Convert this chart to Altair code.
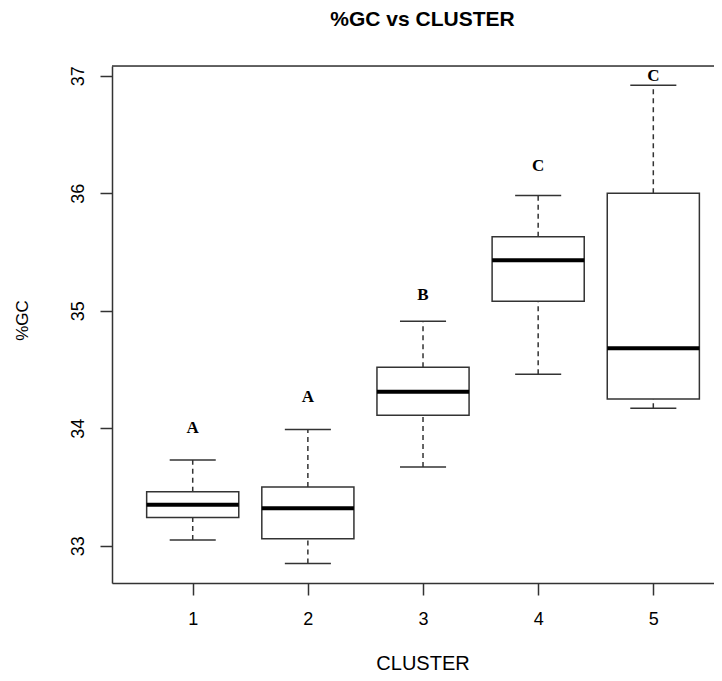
import altair as alt
import pandas as pd

# ---- data ----
clusters = [1, 2, 3, 4, 5]
whisker_low = [33.05, 32.85, 33.67, 34.46, 34.17]
q1 = [33.24, 33.06, 34.11, 35.08, 34.25]
median = [33.35, 33.32, 34.31, 35.43, 34.68]
q3 = [33.46, 33.50, 34.52, 35.63, 36.00]
whisker_high = [33.73, 33.99, 34.91, 35.98, 36.92]
letters = ["A", "A", "B", "C", "C"]
letter_y = [34.00, 34.27, 35.13, 36.23, 37.00]
x_ticks = [1, 2, 3, 4, 5]
y_ticks = [33, 34, 35, 36, 37]

df = pd.DataFrame({
    "cluster": clusters, "wlow": whisker_low, "q1": q1, "med": median,
    "q3": q3, "whigh": whisker_high, "letter": letters, "ly": letter_y,
})

W, H = 602, 517
LINE = "#333333"
FONT = "Liberation Sans"

xs = alt.Scale(domain=[0.299, 5.527], nice=False, zero=False)
ys = alt.Scale(domain=[32.683, 37.083], nice=False, zero=False)

x_axis = alt.Axis(values=x_ticks, format="d", title="CLUSTER", grid=False, tickSize=12,
                  labelFontSize=18, labelPadding=24, labelBaseline="middle",
                  labelFont=FONT, labelColor="black", titleFont=FONT,
                  titleFontSize=20, titleFontWeight="normal", titleColor="black",
                  titleX=310.5, titleY=80, titleBaseline="middle", titleAnchor="middle",
                  domainColor=LINE, tickColor=LINE, domainWidth=1.5, tickWidth=1.5)
y_axis = alt.Axis(values=y_ticks, format="d", title="%GC", grid=False, tickSize=12,
                  labelFontSize=18, labelPadding=17, labelAngle=270,
                  labelAlign="center", labelBaseline="alphabetic",
                  labelFont=FONT, labelColor="black", titleFont=FONT,
                  titleFontSize=17, titleFontWeight="normal", titleColor="black",
                  titleAngle=270, titleX=-90, titleY=254, titleBaseline="middle",
                  titleAlign="center",
                  domainColor=LINE, tickColor=LINE, domainWidth=1.5, tickWidth=1.5)

base = alt.Chart(df).transform_calculate(
    xl="datum.cluster - 0.4", xr="datum.cluster + 0.4",
    cl="datum.cluster - 0.2", cr="datum.cluster + 0.2",
)

upper_w = base.mark_rule(color=LINE, strokeWidth=1.5, strokeDash=[5, 4]).encode(
    x=alt.X("cluster:Q", scale=xs, axis=x_axis),
    y=alt.Y("q3:Q", scale=ys, axis=y_axis),
    y2="whigh:Q",
)
lower_w = base.mark_rule(color=LINE, strokeWidth=1.5, strokeDash=[5, 4]).encode(
    x=alt.X("cluster:Q", scale=xs), y=alt.Y("wlow:Q", scale=ys), y2="q1:Q",
)
cap_hi = base.mark_rule(color=LINE, strokeWidth=1.5).encode(
    x=alt.X("cl:Q", scale=xs), x2="cr:Q", y=alt.Y("whigh:Q", scale=ys),
)
cap_lo = base.mark_rule(color=LINE, strokeWidth=1.5).encode(
    x=alt.X("cl:Q", scale=xs), x2="cr:Q", y=alt.Y("wlow:Q", scale=ys),
)
box = base.mark_rect(fill="white", stroke=LINE, strokeWidth=1.5).encode(
    x=alt.X("xl:Q", scale=xs), x2="xr:Q",
    y=alt.Y("q1:Q", scale=ys), y2="q3:Q",
)
med = base.mark_rule(color="black", strokeWidth=4).encode(
    x=alt.X("xl:Q", scale=xs), x2="xr:Q", y=alt.Y("med:Q", scale=ys),
)
txt = base.mark_text(font="Liberation Serif", fontWeight="bold", fontSize=17,
                     baseline="middle", color="black").encode(
    x=alt.X("cluster:Q", scale=xs), y=alt.Y("ly:Q", scale=ys), text="letter:N",
)
top_frame = alt.Chart(pd.DataFrame({"a": [0]})).mark_rule(
    color=LINE, strokeWidth=1.5).encode(
    x=alt.value(0), x2=alt.value(W), y=alt.value(0),
)

chart = alt.layer(upper_w, lower_w, cap_hi, cap_lo, box, med, txt, top_frame).properties(
    width=W, height=H,
    title=alt.TitleParams("%GC vs CLUSTER", fontSize=21, fontWeight="bold", font=FONT,
                          color="black", anchor="middle", frame="group", dx=9.5,
                          baseline="middle", offset=24),
    autosize=alt.AutoSizeParams(type="none"),
    padding={"left": 104, "top": 58, "right": 0, "bottom": 89},
).configure_view(stroke=None).configure(background="white")

chart.save("out.html", embed_options={"renderer": "svg", "actions": False})
